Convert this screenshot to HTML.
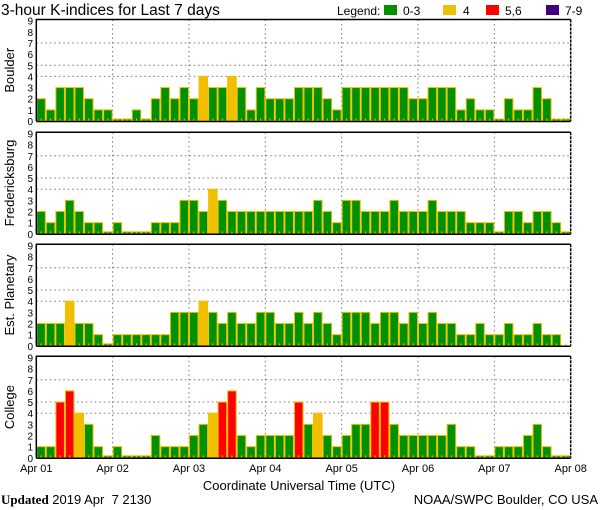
<!DOCTYPE html>
<html><head><meta charset="utf-8"><style>
html,body{margin:0;padding:0;background:#fff;}
svg{display:block;font-family:"Liberation Sans",sans-serif;}
</style></head><body>
<svg id="chart" width="600" height="510" viewBox="0 0 600 510" xmlns="http://www.w3.org/2000/svg">
<text x="1" y="15" font-size="15.5" fill="#000">3-hour K-indices for Last 7 days</text>
<g font-size="12">
<text x="337" y="15">Legend:</text>
<rect x="384" y="5" width="13" height="10" fill="#009100"/>
<text x="403" y="15">0-3</text>
<rect x="443" y="5" width="13" height="10" fill="#f0c000"/>
<text x="463" y="15">4</text>
<rect x="486" y="5" width="13" height="10" fill="#ff0000"/>
<text x="505" y="15">5,6</text>
<rect x="546" y="5" width="13" height="10" fill="#400080"/>
<text x="565" y="15">7-9</text>
</g>
<g id="panels"></g>
<text x="299" y="490" font-size="13" text-anchor="middle">Coordinate Universal Time (UTC)</text>
<text x="1" y="504" font-size="13"><tspan font-family="Liberation Serif,serif" font-weight="bold">Updated</tspan> 2019 Apr&#160; 7 2130</text>
<text x="598" y="504" font-size="13" text-anchor="end">NOAA/SWPC Boulder, CO USA</text>
</svg>
<script>
const stations = ["Boulder","Fredericksburg","Est. Planetary","College"];
const boulder = [2,1,3,3,3,2,1,1, 0,0,1,0,2,3,2,3, 2,4,3,3,4,3,1,3, 2,2,2,3,3,3,2,1, 3,3,3,3,3,3,3,2, 2,3,3,3,1,2,1,1, 0,2,1,1,3,2,0,0];
const fredericksburg = [2,1,2,3,2,1,1,0, 1,0,0,0,1,1,1,3, 3,2,4,3,2,2,2,2, 2,2,2,2,2,3,2,1, 3,3,2,2,2,3,2,2, 2,3,2,2,2,1,1,1, 0,2,2,1,2,2,1,0];
const planetary = [2,2,2,4,2,2,1,0, 1,1,1,1,1,1,3,3, 3,4,3,2,3,2,2,3, 3,2,2,3,2,3,2,1, 3,3,3,2,3,3,2,3, 2,3,2,2,1,1,2,1, 1,2,1,1,2,1,1,null];
const college = [1,1,5,6,4,3,1,0, 1,0,0,0,2,1,1,1, 2,3,4,5,6,2,1,2, 2,2,2,5,3,4,2,1, 2,3,3,5,5,3,2,2, 2,2,2,3,1,1,0,0, 1,1,1,2,3,1,0,0];
const dayLabels = ["Apr 01","Apr 02","Apr 03","Apr 04","Apr 05","Apr 06","Apr 07","Apr 08"];
const yTicks = [0,1,2,3,4,5,6,7,8,9];
const gridLevels = [4,5,7];

const series = [boulder, fredericksburg, planetary, college];
const NS = "http://www.w3.org/2000/svg";
const X0 = 36.3, X1 = 570.7, PH = 101.5, UNIT = 11.15;
const tops = [19.5, 132.3, 244.3, 356.3];
const nBars = 56;
const bw = (X1 - X0) / nBars;
function xPos(i){ return X0 + i * bw; }
function dayX(d){ return X0 + d * 8 * bw; }
function yPos(top, v){ return top + PH - v * UNIT; }
function color(v){ return v >= 7 ? "#400080" : v >= 5 ? "#ff0000" : v >= 4 ? "#f0c000" : "#009100"; }
function mk(tag, attrs, parent){ const e = document.createElementNS(NS, tag); for (const k in attrs) e.setAttribute(k, attrs[k]); parent.appendChild(e); return e; }
const root = document.getElementById("panels");
series.forEach((data, p) => {
  const top = tops[p], bot = top + PH;
  const g = mk("g", {}, root);
  
  
  gridLevels.forEach(l => {
    const ln = mk("line", {x1: X0, x2: X1, y1: yPos(top, l), y2: yPos(top, l), stroke: "#777", "stroke-width": 1, "stroke-dasharray": "1.5,3"}, g);
    
    
  });
  for (let d = 1; d < 7; d++) {
    const ln = mk("line", {x1: dayX(d), x2: dayX(d), y1: top, y2: bot, stroke: "#777", "stroke-width": 1, "stroke-dasharray": "1.5,3"}, g);
    
    
  }
  data.forEach((v, i) => {
    const x = xPos(i);
    if (v !== null) {
      const h = Math.max(v * UNIT, 2);
      const r = mk("rect", {x: x + 0.5, y: bot - h, width: bw - 1, height: h, fill: color(v), stroke: "#f0c000", "stroke-width": 1}, g);
      
      
    }
    const t = mk("line", {x1: x + bw / 2, x2: x + bw / 2, y1: bot - 2.5, y2: bot, stroke: "#f0c000", "stroke-width": 1}, g);
    
    
  });
  const frame = mk("path", {d: `M${X0},${bot} V${top} H${X1}`, fill: "none", stroke: "#000", "stroke-width": 1.5}, g);
  
  
  const rb = mk("line", {x1: X1, x2: X1, y1: top, y2: bot, stroke: "#000", "stroke-width": 1.5, "stroke-dasharray": "3,1"}, g);
  
  
  const bl = mk("line", {x1: X0, x2: X1, y1: bot + 0.5, y2: bot + 0.5, stroke: "#000", "stroke-width": 1.5}, g);
  
  
  yTicks.forEach(v => {
    const tx = mk("text", {x: 33, y: yPos(top, v) + 4, "font-size": 10, "text-anchor": "end"}, g);
    tx.textContent = v;
    
    
  });
  const lab = mk("text", {x: 0, y: 0, "font-size": 13, "text-anchor": "middle", transform: `translate(14,${top + PH / 2}) rotate(-90)`}, g);
  lab.textContent = stations[p];
  
  
});
dayLabels.forEach((s, d) => {
  const t = mk("text", {x: dayX(d), y: 472, "font-size": 11, "text-anchor": "middle"}, root);
  t.textContent = s;
  
  
});
</script>
</body></html>
